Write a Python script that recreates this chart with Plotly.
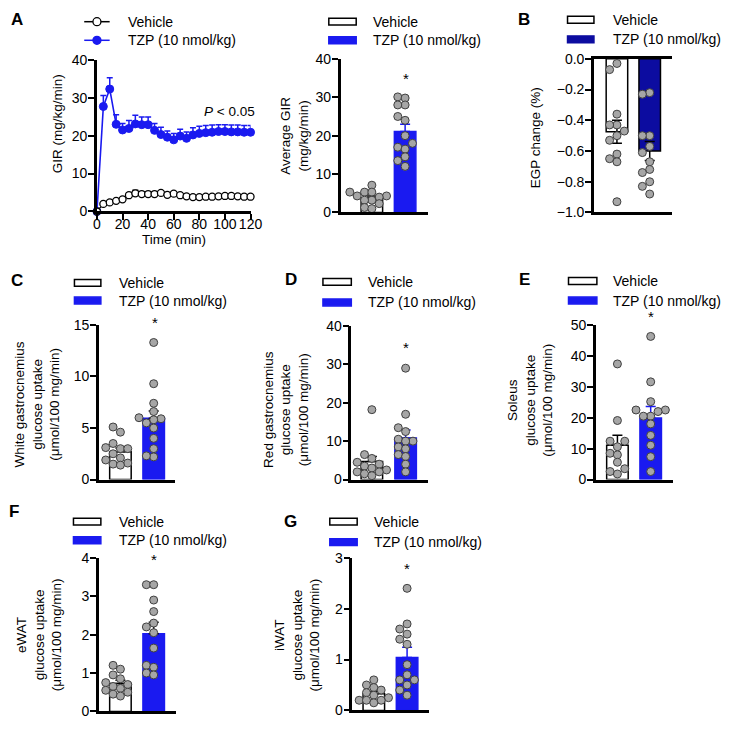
import numpy as np
import plotly.graph_objects as go

W, H = 739, 738
FONT = "Liberation Sans, Arial, sans-serif"
BLUE = "#1a1af0"
NAVY = "#0c0ca0"
DOT = "#a6a6a6"

# ---------------- data ----------------
time_min = list(range(0, 125, 5))
gir_vehicle = [0, 2.0, 2.4, 2.8, 3.2, 4.3, 4.8, 4.6, 4.6, 4.6, 4.9, 4.4, 4.7,
               4.3, 4.0, 3.8, 3.8, 3.9, 3.9, 4.0, 4.1, 4.1, 4.0, 3.9, 3.9]
gir_vehicle_sem = [0, 0.3, 0.3, 0.3, 0.4, 0.7, 0.8, 0.6, 0.6, 0.6, 0.6, 0.5, 0.5,
                   0.4, 0.3, 0.3, 0.3, 0.3, 0.3, 0.3, 0.3, 0.3, 0.3, 0.3, 0.3]
gir_tzp = [0, 27.7, 32.3, 23.0, 21.5, 21.9, 23.1, 22.9, 22.9, 21.4, 20.3, 19.6, 18.9,
           19.9, 19.3, 20.2, 20.6, 20.8, 20.9, 21.1, 21.1, 21.0, 21.0, 20.9, 20.9]
gir_tzp_sem = [0, 2.9, 3.0, 2.5, 1.7, 2.1, 2.3, 2.0, 2.0, 1.8, 1.9, 1.6, 1.7,
               1.8, 1.7, 1.9, 1.9, 1.9, 1.9, 1.8, 1.8, 1.8, 1.8, 1.8, 1.8]

groups = ["Vehicle", "TZP (10 nmol/kg)"]

avg_gir_vehicle = [7.1, 5.3, 5.3, 5.3, 4.3, 4.3, 4.0, 3.2, 3.2, 2.3, 1.3, 1.0]
avg_gir_tzp = [30.1, 29.8, 28.0, 28.0, 25.0, 24.0, 20.0, 18.0, 17.0, 16.5, 14.5, 13.5, 12.0]
avg_gir_mean = [3.8, 21.1]
avg_gir_sem = [0.5, 1.9]

egp_vehicle = [-0.03, -0.07, -0.36, -0.43, -0.43, -0.47, -0.50, -0.53, -0.62, -0.65, -0.67, -0.93]
egp_tzp = [-0.22, -0.23, -0.50, -0.50, -0.57, -0.61, -0.67, -0.72, -0.74, -0.80, -0.83, -0.88]
egp_mean = [-0.475, -0.60]
egp_sem = [0.075, 0.062]

wg_vehicle = [5.1, 4.6, 3.5, 3.1, 3.0, 3.0, 2.5, 2.1, 1.9, 1.6, 1.5, 1.4]
wg_tzp = [13.3, 9.3, 7.4, 6.6, 6.0, 5.9, 5.8, 5.5, 5.0, 4.0, 3.0, 2.2, 2.3]
wg_mean = [2.7, 5.95]
wg_sem = [0.35, 0.7]

rg_vehicle = [18.2, 6.5, 5.5, 4.5, 4.0, 3.5, 3.0, 2.5, 2.0, 2.0, 1.5, 1.0]
rg_tzp = [29.0, 17.0, 13.5, 12.5, 10.5, 10.0, 10.0, 8.5, 8.0, 6.5, 6.0, 4.0, 2.0]
rg_mean = [4.7, 10.8]
rg_sem = [1.3, 2.1]

sol_vehicle = [37.4, 19.1, 12.4, 12.4, 10.6, 8.5, 8.0, 5.6, 3.5, 2.6, 1.8]
sol_tzp = [46.3, 31.6, 25.2, 22.5, 22.5, 22.0, 20.5, 20.5, 18.0, 14.3, 11.1, 7.4, 2.6]
sol_mean = [11.1, 19.9]
sol_sem = [3.2, 3.7]

ewat_vehicle = [1.2, 1.1, 0.95, 0.85, 0.75, 0.7, 0.65, 0.6, 0.55, 0.5, 0.45, 0.4]
ewat_tzp = [3.3, 3.3, 2.9, 2.6, 2.3, 2.2, 2.05, 1.65, 1.2, 1.15, 1.0, 0.95]
ewat_mean = [0.73, 2.02]
ewat_sem = [0.08, 0.3]

iwat_vehicle = [0.6, 0.5, 0.45, 0.4, 0.35, 0.3, 0.3, 0.25, 0.2, 0.2, 0.2, 0.15]
iwat_tzp = [2.4, 1.7, 1.6, 1.5, 1.4, 1.3, 0.9, 0.7, 0.6, 0.6, 0.5, 0.4, 0.3]
iwat_mean = [0.33, 1.04]
iwat_sem = [0.04, 0.2]


# ---------------- helpers ----------------
def pxx(p):
    return p / W


def pxy(p):
    return 1 - p / H


def swarm(vals, px_per_unit, diam=6.5, step=7.5):
    vals = np.asarray(vals, dtype=float)
    order = np.argsort(np.abs(vals))
    placed = []
    offs = np.zeros(len(vals))
    cands = [0.0]
    for j in range(1, 6):
        cands += [-j * step, j * step]
    for i in order:
        y = vals[i] * px_per_unit
        chosen = cands[-1]
        for c in cands:
            if all((c - ox) ** 2 + (y - oy) ** 2 >= diam ** 2 for ox, oy in placed):
                chosen = c
                break
        offs[i] = chosen
        placed.append((chosen, y))
    return offs


fig = go.Figure()
layout = dict(
    width=W, height=H, margin=dict(l=0, r=0, t=0, b=0),
    paper_bgcolor="white", plot_bgcolor="white",
    font=dict(family=FONT, size=14, color="black"),
    showlegend=False, barmode="overlay",
)
annotations = []
shapes = []

axis_common = dict(showgrid=False, zeroline=False, showline=True, linecolor="black",
                   linewidth=2.5, ticks="outside", ticklen=6, tickwidth=2,
                   tickcolor="black", tickfont=dict(size=14, family=FONT, color="black"))


def set_axes(i, xpx, ypx, xrange, yrange, xkw, ykw):
    xn = "xaxis" if i == 1 else f"xaxis{i}"
    yn = "yaxis" if i == 1 else f"yaxis{i}"
    ax = dict(axis_common)
    ax.update(domain=[pxx(xpx[0]), pxx(xpx[1])], range=list(xrange),
              anchor="y" if i == 1 else f"y{i}")
    ax.update(xkw)
    ay = dict(axis_common)
    ay.update(domain=[pxy(ypx[1]), pxy(ypx[0])], range=list(yrange),
              anchor="x" if i == 1 else f"x{i}", ticklabelstandoff=-2)
    ay.update(ykw)
    layout[xn] = ax
    layout[yn] = ay


# ---------------- Panel A: time course ----------------
fig.add_trace(go.Scatter(
    x=time_min, y=gir_tzp, mode="lines+markers", cliponaxis=False,
    line=dict(color=BLUE, width=1.6),
    marker=dict(size=8, color=BLUE, line=dict(color=BLUE, width=1)),
    error_y=dict(type="data", array=gir_tzp_sem, arrayminus=[0] * len(gir_tzp_sem),
                 symmetric=False, color=BLUE, thickness=1.5, width=3),
    xaxis="x", yaxis="y"))
fig.add_trace(go.Scatter(
    x=time_min, y=gir_vehicle, mode="lines+markers", cliponaxis=False,
    line=dict(color="black", width=1.2),
    marker=dict(size=7, color="white", line=dict(color="black", width=1.3)),
    error_y=dict(type="data", array=gir_vehicle_sem, arrayminus=[0] * len(gir_vehicle_sem),
                 symmetric=False, color="black", thickness=1.3, width=3),
    xaxis="x", yaxis="y"))
set_axes(1, (95, 252), (53, 208), (0, 120), (0, 40),
         dict(tickmode="array", tickvals=list(range(0, 121, 20)), ticklabelstandoff=-8),
         dict(tickmode="array", tickvals=[0, 10, 20, 30, 40]))

annotations.append(dict(text="<i>P</i> < 0.05", x=pxx(230), y=pxy(106), xref="paper", yref="paper",
                        showarrow=False, font=dict(size=13.5, family=FONT), xanchor="center", yanchor="middle"))
annotations.append(dict(text="Time (min)", x=pxx(174), y=pxy(237), xref="paper", yref="paper",
                        showarrow=False, font=dict(size=13.5, family=FONT), xanchor="center", yanchor="middle"))
annotations.append(dict(text="GIR (mg/kg/min)", x=pxx(55), y=pxy(118), xref="paper", yref="paper",
                        textangle=-90, showarrow=False, font=dict(size=13.5, family=FONT),
                        xanchor="center", yanchor="middle"))

# legend for line chart
for row, (col, fill) in zip((14, 33), (("black", "white"), (BLUE, BLUE))):
    shapes.append(dict(type="line", xref="paper", yref="paper", x0=pxx(82), x1=pxx(108),
                       y0=pxy(row), y1=pxy(row), line=dict(color=col, width=1.5)))
    shapes.append(dict(type="circle", xref="paper", yref="paper", xsizemode="pixel", ysizemode="pixel",
                       xanchor=pxx(95), yanchor=pxy(row), x0=-4, x1=4, y0=-4, y1=4,
                       fillcolor=fill, line=dict(color=col, width=1.3)))
for row, g in zip((14, 33), groups):
    annotations.append(dict(text=g, x=pxx(125), y=pxy(row), xref="paper", yref="paper",
                            showarrow=False, font=dict(size=14, family=FONT),
                            xanchor="left", yanchor="middle"))

# ---------------- Bar panels ----------------
bar_panels = [
    dict(idx=2, veh=avg_gir_vehicle, tzp=avg_gir_tzp, mean=avg_gir_mean, sem=avg_gir_sem,
         xpx=(344, 433), ypx=(52, 209), yr=(0, 40), ticks=[0, 10, 20, 30, 40], c0=376, s=34,
         fill=BLUE, errc=("black", BLUE), sym=False,
         title="Average GIR<br>(mg/kg/min)", tpos=(297, 131),
         leg=(332, 360, 375, 14, 33), star=(411, 72), letter=None),
    dict(idx=3, veh=egp_vehicle, tzp=egp_tzp, mean=egp_mean, sem=egp_sem,
         xpx=(603, 683), ypx=(52, 209), yr=(-1, 0), ticks=[0, -0.2, -0.4, -0.6, -0.8, -1.0],
         c0=626.5, s=33.5, fill=NAVY, errc=("black", "black"), sym=True,
         title="EGP change (%)", tpos=(543, 133),
         leg=(576, 603, 620, 12, 32), star=None, letter=("B", 532, 12)),
    dict(idx=4, veh=wg_vehicle, tzp=wg_tzp, mean=wg_mean, sem=wg_sem,
         xpx=(97, 175), ypx=(324, 482), yr=(0, 15), ticks=[0, 5, 10, 15], c0=119, s=34,
         fill=BLUE, errc=("black", "black"), sym=False,
         title="White gastrocnemius<br>glucose uptake<br>(μmol/100 mg/min)", tpos=(34, 405),
         leg=(72, 99, 115, 281, 299), star=(154, 321), letter=("C", 13, 279)),
    dict(idx=5, veh=rg_vehicle, tzp=rg_tzp, mean=rg_mean, sem=rg_sem,
         xpx=(355, 433), ypx=(325, 482), yr=(0, 40), ticks=[0, 10, 20, 30, 40], c0=376, s=34.5,
         fill=BLUE, errc=("black", BLUE), sym=False,
         title="Red gastrocnemius<br>glucose uptake<br>(μmol/100 mg/min)", tpos=(288, 410),
         leg=(326, 355, 370, 280, 301), star=(411, 347), letter=("D", 293, 278)),
    dict(idx=6, veh=sol_vehicle, tzp=sol_tzp, mean=sol_mean, sem=sol_sem,
         xpx=(605, 684), ypx=(324, 482), yr=(0, 50), ticks=[0, 10, 20, 30, 40, 50], c0=627, s=34,
         fill=BLUE, errc=("black", BLUE), sym=False,
         title="Soleus<br>glucose uptake<br>(μmol/100 mg/min)", tpos=(538, 401),
         leg=(577, 606, 620, 279, 299), star=(661, 315), letter=("E", 532, 278)),
    dict(idx=7, veh=ewat_vehicle, tzp=ewat_tzp, mean=ewat_mean, sem=ewat_sem,
         xpx=(97, 176), ypx=(562, 719), yr=(0, 4), ticks=[0, 1, 2, 3, 4], c0=119, s=34,
         fill=BLUE, errc=("black", "black"), sym=False,
         title="eWAT<br>glucose uptake<br>(μmol/100 mg/min)", tpos=(36, 641),
         leg=(71, 99, 115, 525, 544), star=(153, 564), letter=("F", 10, 515)),
    dict(idx=8, veh=iwat_vehicle, tzp=iwat_tzp, mean=iwat_mean, sem=iwat_sem,
         xpx=(356, 434), ypx=(562, 718), yr=(0, 3), ticks=[0, 1, 2, 3], c0=378, s=34,
         fill=BLUE, errc=("black", BLUE), sym=False,
         title="iWAT<br>glucose uptake<br>(μmol/100 mg/min)", tpos=(300, 641),
         leg=(333, 361, 376, 525, 546), star=(412, 573), letter=("G", 293, 525)),
]

for p in bar_panels:
    i = p["idx"]
    xr = ((p["xpx"][0] - p["c0"]) / p["s"], (p["xpx"][1] - p["c0"]) / p["s"])
    bw = 22 / p["s"]
    xa, ya = f"x{i}", f"y{i}"
    fills = ["white", p["fill"]]
    lines = ["black", p["fill"] if p["fill"] == BLUE else "black"]
    for k in range(2):
        fig.add_trace(go.Bar(
            x=[k], y=[p["mean"][k]], width=bw, xaxis=xa, yaxis=ya,
            marker=dict(color=fills[k], line=dict(color=lines[k], width=1.5)),
            error_y=dict(type="data", array=[p["sem"][k]],
                         arrayminus=[p["sem"][k] if p["sym"] else 0], symmetric=False,
                         color=p["errc"][k], thickness=1.5, width=5)))
    px_per_unit = (p["ypx"][1] - p["ypx"][0]) / (p["yr"][1] - p["yr"][0])
    for k, vals in enumerate((p["veh"], p["tzp"])):
        offs = swarm(vals, px_per_unit)
        fig.add_trace(go.Scatter(
            x=k + offs / p["s"], y=vals, mode="markers", xaxis=xa, yaxis=ya, cliponaxis=False,
            marker=dict(size=8, color=DOT, line=dict(color="#404040", width=1))))
    ykw = dict(tickmode="array", tickvals=p["ticks"])
    if i == 3:
        ykw["tickformat"] = ".1f"
    xkw = dict(showticklabels=False, ticks="")
    if i == 3:
        xkw["mirror"] = True
    set_axes(i, p["xpx"], p["ypx"], xr, p["yr"], xkw, ykw)

    annotations.append(dict(text=p["title"], x=pxx(p["tpos"][0]), y=pxy(p["tpos"][1]),
                            xref="paper", yref="paper", textangle=-90, showarrow=False,
                            font=dict(size=13.5, family=FONT), xanchor="center", yanchor="middle"))
    x0, x1, tx, r1, r2 = p["leg"]
    for row, fc, lc in ((r1, "white", "black"), (r2, p["fill"], p["fill"])):
        shapes.append(dict(type="rect", xref="paper", yref="paper", x0=pxx(x0), x1=pxx(x1),
                           y0=pxy(row + 3.5), y1=pxy(row - 3.5), fillcolor=fc,
                           line=dict(color=lc, width=1.5)))
    for row, g in zip((r1, r2), groups):
        annotations.append(dict(text=g, x=pxx(tx), y=pxy(row), xref="paper", yref="paper",
                                showarrow=False, font=dict(size=14, family=FONT),
                                xanchor="left", yanchor="middle"))
    if p["star"]:
        annotations.append(dict(text="*", x=pxx(p["star"][0]), y=pxy(p["star"][1]),
                                xref="paper", yref="paper", showarrow=False,
                                font=dict(size=15, family=FONT), xanchor="center", yanchor="middle"))
    if p["letter"]:
        L, lx, ly = p["letter"]
        annotations.append(dict(text=f"<b>{L}</b>", x=pxx(lx), y=pxy(ly), xref="paper", yref="paper",
                                showarrow=False, font=dict(size=17, family=FONT),
                                xanchor="center", yanchor="middle"))

annotations.append(dict(text="<b>A</b>", x=pxx(13), y=pxy(12), xref="paper", yref="paper",
                        showarrow=False, font=dict(size=17, family=FONT),
                        xanchor="center", yanchor="middle"))

layout["annotations"] = annotations
layout["shapes"] = shapes
fig.update_layout(**layout)
fig.write_html("out.html", config={"displayModeBar": False},
               post_script="document.body.style.margin='0';document.body.style.padding='0';"
                           "document.body.style.overflow='hidden';")
